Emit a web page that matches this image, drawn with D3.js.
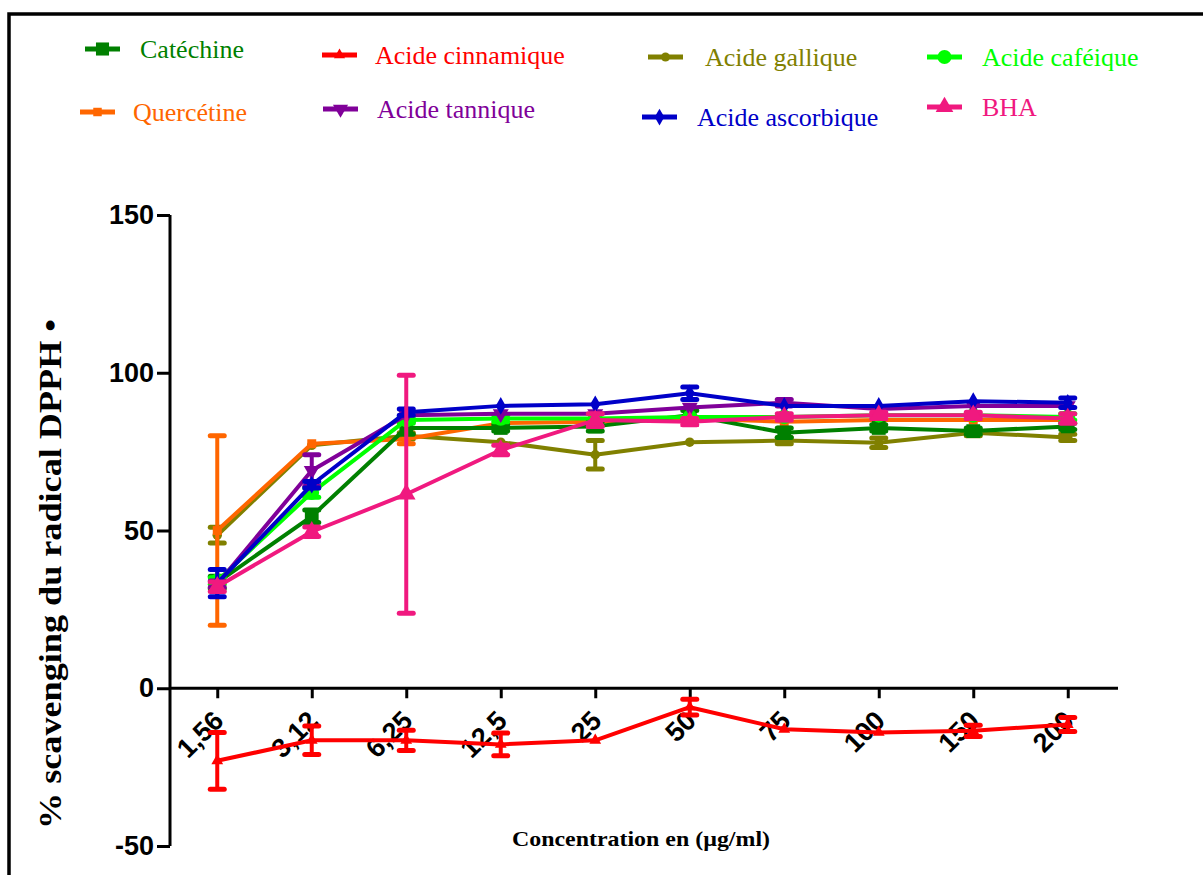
<!DOCTYPE html>
<html><head><meta charset="utf-8">
<script src="https://cdn.jsdelivr.net/npm/d3@7"></script>
<style>body{margin:0;background:#fff}svg{display:block}</style>
</head><body>
<script>
const categories = ["1,56","3,12","6,25","12,5","25","50","75","100","150","200"];
const yTicks = [-50, 0, 50, 100, 150];

const catechine     = [33.5, 54.5, 82.5, 82.5, 83, 86.5, 81, 82.5, 81.5, 83];
const catechineErr  = [2, 2, 2, 1, 1.5, 1.5, 1.5, 1, 1, 1];
const cinnamique    = [-23, -16.5, -16.5, -17.8, -16.5, -6, -13, -14, -13.5, -11.5];
const cinnamiqueErr = [9, 4.5, 3.2, 3.6, 0, 2.5, 0, 0, 1.8, 2.2];
const gallique      = [48.5, 77, 80, 78, 74, 78, 78.5, 77.8, 81, 79.5];
const galliqueErr   = [2.5, 0.5, 1, 0.5, 4.5, 0, 1, 1.5, 1, 1];
const cafeique      = [34, 62, 85, 85.5, 85.5, 86, 86, 86.5, 86.5, 86];
const cafeiqueErr   = [1, 1.5, 1, 1, 0.5, 0.5, 0.5, 0.5, 0.5, 1];
const quercetine    = [50, 77.5, 79, 84, 84.5, 85.5, 84.5, 85, 85, 85];
const quercetineErr = [30, 0.5, 1.5, 0.5, 0.5, 0.5, 0.5, 0.5, 0.5, 0.5];
const tannique      = [33, 69, 86.5, 87, 87, 89, 90.5, 88.5, 89.5, 89.5];
const tanniqueErr   = [1, 5, 0.5, 0.5, 0.5, 0.5, 1, 0.5, 0.5, 0.5];
const ascorbique    = [33.3, 64.5, 87.5, 89.5, 90, 93.5, 89.5, 89.5, 91, 90.5];
const ascorbiqueErr = [4.3, 1, 1, 0.5, 0.5, 2, 0.5, 0.5, 0.5, 1.5];
const bha           = [32.2, 49.6, 61.5, 75.5, 85, 84.5, 86, 86.5, 86.5, 85.5];
const bhaErr        = [1.5, 1.5, 37.7, 1.5, 2, 1, 1, 1, 1, 1.5];

const series = [
  {name:"Catéchine", values:catechine, err:catechineErr, color:"#008000", sym:d3.symbolSquare, size:190, leg:[85,49,140,58]},
  {name:"Acide cinnamique", values:cinnamique, err:cinnamiqueErr, color:"#FF0000", sym:d3.symbolTriangle, size:60, leg:[322,55,375,64]},
  {name:"Acide gallique", values:gallique, err:galliqueErr, color:"#808000", sym:d3.symbolCircle, size:70, leg:[648,57,705,66]},
  {name:"Acide caféique", values:cafeique, err:cafeiqueErr, color:"#00FF00", sym:d3.symbolCircle, size:170, leg:[927,57,982,66]},
  {name:"Quercétine", values:quercetine, err:quercetineErr, color:"#FF6600", sym:d3.symbolSquare, size:80, leg:[80,112,133,121]},
  {name:"Acide tannique", values:tannique, err:tanniqueErr, color:"#800099", sym:"down", size:110, leg:[323,109,377,118]},
  {name:"Acide ascorbique", values:ascorbique, err:ascorbiqueErr, color:"#0000C8", sym:d3.symbolDiamond, size:90, leg:[642,117,697,126]},
  {name:"BHA", values:bha, err:bhaErr, color:"#F0197F", sym:d3.symbolTriangle, size:150, leg:[927,107,982,116]}
];
const drawOrder = [2,4,0,3,5,6,1,7];

const W = 1203, H = 875;
const svg = d3.select("body").append("svg").attr("width", W).attr("height", H);

svg.append("rect").attr("x", 9).attr("y", 14).attr("width", 1220).attr("height", 900)
  .attr("fill", "none").attr("stroke", "#000").attr("stroke-width", 3.5);

const x = d3.scalePoint().domain(categories).range([170, 1115]).padding(0.5);
const y = d3.scaleLinear().domain([-50, 150]).range([846, 215]);

// axes
const yAxis = svg.append("g").attr("transform", "translate(170,0)")
  .call(d3.axisLeft(y).tickValues(yTicks).tickSize(13).tickPadding(3).tickFormat(d => String(d)));
yAxis.select(".domain").attr("stroke-width", 3).attr("d", `M0,${y(150)}V${y(-50)}`);
yAxis.selectAll(".tick line").attr("stroke-width", 3);
yAxis.selectAll("text").attr("font-family", "Liberation Sans, Arial, sans-serif")
  .attr("font-weight", "bold").attr("font-size", 27).attr("fill", "#000");

const xAxis = svg.append("g").attr("transform", `translate(0,${y(0)})`)
  .call(d3.axisBottom(x).tickSize(10).tickSizeOuter(0).tickFormat(""));
xAxis.select(".domain").attr("stroke-width", 3).attr("d", "M170,0H1118");
xAxis.selectAll(".tick line").attr("stroke-width", 3);

svg.append("g").selectAll("text").data(categories).join("text")
  .attr("transform", d => `translate(${x(d) + 8},${y(0) + 34}) rotate(-45)`)
  .attr("text-anchor", "end")
  .attr("font-family", "Liberation Sans, Arial, sans-serif")
  .attr("font-weight", "bold").attr("font-size", 27).attr("fill", "#000")
  .text(d => d);

// axis titles
svg.append("text").attr("transform", "translate(61,574) rotate(-90)")
  .attr("text-anchor", "middle").attr("font-family", "Liberation Serif, Times New Roman, serif")
  .attr("font-weight", "bold").attr("font-size", 31).attr("fill", "#000")
  .attr("textLength", 510).attr("lengthAdjust", "spacingAndGlyphs")
  .text("% scavenging du radical DPPH •");
svg.append("text").attr("x", 641).attr("y", 846)
  .attr("text-anchor", "middle").attr("font-family", "Liberation Serif, Times New Roman, serif")
  .attr("font-weight", "bold").attr("font-size", 22).attr("fill", "#000")
  .attr("textLength", 258).attr("lengthAdjust", "spacingAndGlyphs")
  .text("Concentration en (µg/ml)");

function symPath(s, size) {
  if (s === "down") return d3.symbol().type(d3.symbolTriangle).size(size)();
  return d3.symbol().type(s).size(size)();
}
function symTransform(s, px, py) {
  return s === "down" ? `translate(${px},${py}) rotate(180)` : `translate(${px},${py})`;
}

const line = d3.line().x((d, i) => x(categories[i])).y(d => y(d));
const plot = svg.append("g");

drawOrder.forEach(k => {
  const s = series[k];
  const g = plot.append("g");
  g.append("path").attr("d", line(s.values)).attr("fill", "none")
    .attr("stroke", s.color).attr("stroke-width", 4).attr("stroke-linejoin", "round");
  const eb = g.append("g").selectAll("g").data(s.values.map((v, i) => ({v, e: s.err[i], c: categories[i]})))
    .join("g").filter(d => d.e > 0.9);
  eb.append("line").attr("x1", d => x(d.c)).attr("x2", d => x(d.c))
    .attr("y1", d => y(d.v + d.e)).attr("y2", d => y(d.v - d.e))
    .attr("stroke", s.color).attr("stroke-width", 4);
  [1, -1].forEach(sg => {
    eb.append("line").attr("x1", d => x(d.c) - 7).attr("x2", d => x(d.c) + 7)
      .attr("y1", d => y(d.v + sg * d.e)).attr("y2", d => y(d.v + sg * d.e))
      .attr("stroke", s.color).attr("stroke-width", 5).attr("stroke-linecap", "round");
  });
  g.append("g").selectAll("path").data(s.values).join("path")
    .attr("d", symPath(s.sym, s.size))
    .attr("transform", (d, i) => symTransform(s.sym, x(categories[i]), y(d)))
    .attr("fill", s.color);
});

// legend
const leg = svg.append("g");
series.forEach(s => {
  const [sx, sy, tx, ty] = s.leg;
  leg.append("line").attr("x1", sx).attr("x2", sx + 35).attr("y1", sy).attr("y2", sy)
    .attr("stroke", s.color).attr("stroke-width", 5);
  leg.append("path").attr("d", symPath(s.sym, s.size * 0.9))
    .attr("transform", symTransform(s.sym, sx + 17.5, sy)).attr("fill", s.color);
  leg.append("text").attr("x", tx).attr("y", ty)
    .attr("font-family", "Liberation Serif, Times New Roman, serif")
    .attr("font-size", 26).attr("fill", s.color).text(s.name);
});
</script>
</body></html>
